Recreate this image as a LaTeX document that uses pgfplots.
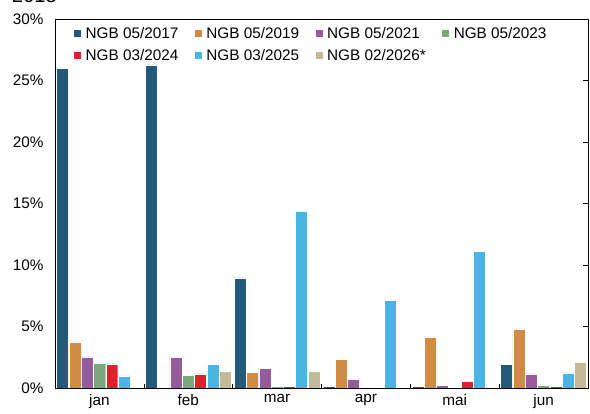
\documentclass[border=0pt]{standalone}
\usepackage{fontspec}
\setmainfont{Liberation Sans}
\usepackage{pgfplots}
\pgfplotsset{compat=1.18}
\definecolor{c1}{HTML}{235A7A}
\definecolor{c2}{HTML}{D08C42}
\definecolor{c3}{HTML}{955B9A}
\definecolor{c4}{HTML}{7BA77D}
\definecolor{c5}{HTML}{E0202E}
\definecolor{c6}{HTML}{4AB4E2}
\definecolor{c7}{HTML}{C4BA98}
\begin{document}
\begin{tikzpicture}
\begin{axis}[
  at={(0,0)}, anchor=south west,
  scale only axis, width=533pt, height=369pt,
  ybar=0.3pt, bar width=12pt,
  xmin=-0.5, xmax=5.5, ymin=0, ymax=30,
  xtick={0,...,5}, xticklabels={jan,feb,mar,apr,mai,jun},
  minor xtick={0.5,1.5,2.5,3.5,4.5},
  major x tick style={draw=none},
  minor tick length=4pt,
  major tick length=5pt,
  tick align=inside,
  xtick pos=bottom,
  ytick={0,5,...,30},
  yticklabels={0\%,5\%,10\%,15\%,20\%,25\%,30\%},
  ytick pos=both,
  tick style={black, line width=0.6pt},
  axis line style={black, line width=0.8pt},
  tick label style={font=\fontsize{15.3}{18}\selectfont},
  yticklabel style={xshift=-8pt},
  xticklabel style={yshift=-3pt},
  legend columns=4,
  legend cell align=left,
  legend style={at={(axis description cs:0,1)}, anchor=north west, xshift=19pt, yshift=-7pt,
    draw=none, fill=none, inner sep=0pt, row sep=6pt,
    font=\fontsize{15.3}{18}\selectfont,
    nodes={inner sep=1.5pt, font=\fontsize{15.3}{18}\selectfont},
    /tikz/every odd column/.append style={column sep=3pt},
    /tikz/every even column/.append style={column sep=15pt}},
  legend image code/.code={\path[#1,draw=none] (0pt,-3.5pt) rectangle (7pt,3.5pt);},
  every axis plot/.append style={draw=white, line width=0.4pt},
]
\addplot[fill=c1] coordinates {(0,26.0) (1,26.27) (2,8.96) (3,0.16) (4,0.16) (5,1.9)};
\addplot[fill=c2] coordinates {(0,3.75) (1,0) (2,1.30) (3,2.34) (4,4.16) (5,4.81)};
\addplot[fill=c3] coordinates {(0,2.53) (1,2.5) (2,1.6) (3,0.71) (4,0.24) (5,1.14)};
\addplot[fill=c4] coordinates {(0,2.04) (1,1.03) (2,0.16) (3,0) (4,0.03) (5,0.19)};
\addplot[fill=c5] coordinates {(0,1.96) (1,1.14) (2,0.13) (3,0.05) (4,0.54) (5,0.14)};
\addplot[fill=c6] coordinates {(0,0.98) (1,1.93) (2,14.34) (3,7.1) (4,11.1) (5,1.22)};
\addplot[fill=c7] coordinates {(0,0) (1,1.39) (2,1.39) (3,0.05) (4,0) (5,2.09)};
\legend{NGB 05/2017,NGB 05/2019,NGB 05/2021,NGB 05/2023,NGB 03/2024,NGB 03/2025,NGB 02/2026*}
\end{axis}
\node[anchor=base west, font=\fontsize{20}{24}\selectfont, inner sep=0pt] at (-43pt,385pt) {2018};
\pgfresetboundingbox
\useasboundingbox (-55pt,-26pt) rectangle (535pt,388pt);
\end{tikzpicture}
\end{document}
